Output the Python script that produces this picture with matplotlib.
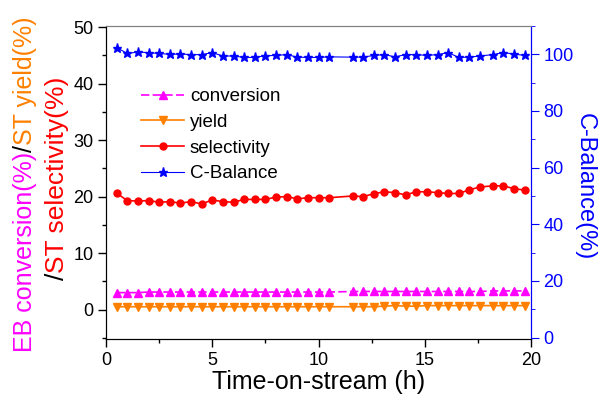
import numpy as np
import matplotlib.pyplot as plt
from matplotlib.ticker import MultipleLocator

plt.rcParams['font.family'] = ['Liberation Sans', 'DejaVu Sans']

# time on stream (h)
t = [0.5, 1.0, 1.5, 2.0, 2.5, 3.0, 3.5, 4.0, 4.5, 5.0, 5.5, 6.0, 6.5, 7.0,
     7.5, 8.0, 8.5, 9.0, 9.5, 10.0, 10.5,
     11.6, 12.1, 12.6, 13.1, 13.6, 14.1, 14.6, 15.1, 15.6, 16.1, 16.6,
     17.1, 17.6, 18.2, 18.7, 19.2, 19.7]

conversion = [3.0, 3.0, 3.0, 3.1, 3.1, 3.1, 3.1, 3.1, 3.1, 3.1, 3.1, 3.1, 3.1, 3.1,
              3.1, 3.1, 3.1, 3.1, 3.1, 3.1, 3.1,
              3.2, 3.2, 3.2, 3.2, 3.2, 3.2, 3.2, 3.2, 3.2, 3.2, 3.2,
              3.2, 3.2, 3.3, 3.3, 3.3, 3.3]

yield_ = [0.5, 0.5, 0.5, 0.5, 0.5, 0.5, 0.5, 0.5, 0.5, 0.5, 0.5, 0.5, 0.5, 0.5,
          0.5, 0.5, 0.5, 0.5, 0.5, 0.5, 0.5,
          0.5, 0.5, 0.5, 0.6, 0.7, 0.6, 0.6, 0.7, 0.7, 0.7, 0.7,
          0.7, 0.7, 0.7, 0.7, 0.7, 0.7]

selectivity = [20.6, 19.3, 19.2, 19.3, 19.0, 19.1, 18.85, 19.1, 18.7, 19.4, 19.1, 19.0, 19.5, 19.5,
               19.5, 19.9, 20.0, 19.6, 19.8, 19.8, 19.8,
               20.1, 20.0, 20.5, 20.85, 20.7, 20.3, 20.85, 20.85, 20.7, 20.55, 20.55,
               21.2, 21.7, 21.9, 21.9, 21.4, 21.15]

c_balance = [102.4, 100.3, 100.8, 100.6, 100.3, 100.0, 100.1, 99.9, 99.9, 100.6, 99.4, 99.4, 98.9, 98.9,
             99.5, 99.6, 99.9, 99.0, 98.9, 98.9, 99.1,
             99.0, 99.0, 99.6, 99.9, 99.1, 99.9, 99.9, 99.6, 99.9, 100.6, 98.9,
             99.0, 99.4, 99.9, 100.6, 100.1, 99.6]

fig = plt.figure(figsize=(6, 3.98), dpi=100)
ax = fig.add_axes([0.1767, 0.147, 0.7083, 0.7877])
ax2 = ax.twinx()

l1, = ax.plot(t, conversion, color='#FF00FF', ls=(0, (5, 2)), lw=1.2, marker='^', ms=6, label='conversion')
l2, = ax.plot(t, yield_, color='#FF8000', lw=1.2, marker='v', ms=6, label='yield')
l3, = ax.plot(t, selectivity, color='#FF0000', lw=1.2, marker='o', ms=5, label='selectivity')
l4, = ax2.plot(t, c_balance, color='#0000FF', lw=0.8, marker='*', ms=6.5, label='C-Balance')

ax.set_xlim(0, 20)
ax.set_ylim(-5.3, 50.2)
ax2.set_ylim(-0.7, 110)

ax.xaxis.set_major_locator(MultipleLocator(5))
ax.xaxis.set_minor_locator(MultipleLocator(2.5))
ax.yaxis.set_major_locator(MultipleLocator(10))
ax.yaxis.set_minor_locator(MultipleLocator(5))
ax2.set_yticks(range(0, 101, 20))
ax2.yaxis.set_minor_locator(MultipleLocator(10))

ax.tick_params(axis='both', which='major', direction='out', length=6, labelsize=13, width=1, pad=3)
ax.tick_params(axis='both', which='minor', direction='out', length=3, width=1)
ax2.tick_params(axis='y', which='major', direction='out', length=6, labelsize=13, colors='#0000FF', pad=3)
ax2.tick_params(axis='y', which='minor', direction='out', length=3, colors='#0000FF')

for a in (ax, ax2):
    a.spines['top'].set_color('#808080')
    a.spines['right'].set_color('#0000FF')
    a.spines['left'].set_color('black')

ax.set_xlabel('Time-on-stream (h)', fontsize=18, labelpad=1)
fig.text(585 / 600, 1 - 187 / 398, 'C-Balance(%)', fontsize=17, color='#0000FF',
         rotation=270, ha='center', va='center')

# multicolour left label
fig.canvas.draw()
renderer = fig.canvas.get_renderer()


def colour_label(x, y0, pieces, size):
    y = y0
    for txt, col in pieces:
        tt = fig.text(x, y, txt, color=col, fontsize=size, rotation=90,
                      ha='center', va='bottom')
        bb = tt.get_window_extent(renderer=renderer)
        y += bb.height / fig.bbox.height


colour_label(0.042, 0.1156, [('EB conversion(%)', '#FF00FF'), ('/', 'black'), ('ST yield(%)', '#FF8000')], 18)
colour_label(0.095, 0.296, [('/', 'black'), ('ST selectivity(%)', '#FF0000')], 19)

ax.legend(handles=[l1, l2, l3, l4], loc='upper left', bbox_to_anchor=(0.065, 0.825),
          frameon=False, fontsize=13.5, handlelength=2.3, labelspacing=0.45,
          handletextpad=0.3, borderaxespad=0)

fig.savefig('out.png', dpi=100)
